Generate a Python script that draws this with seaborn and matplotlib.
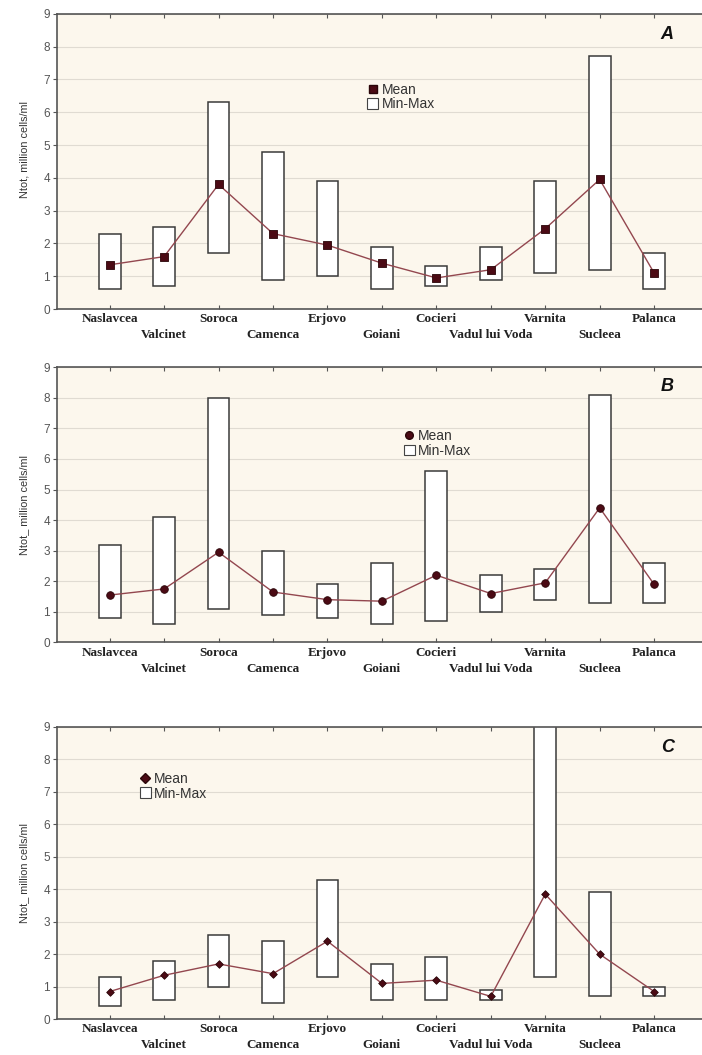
import numpy as np
import pandas as pd
import matplotlib
matplotlib.use("Agg")
import matplotlib.pyplot as plt
import seaborn as sns
from matplotlib.lines import Line2D
from matplotlib.patches import Rectangle

# sampling sites (x axis)
sites = ["Naslavcea", "Valcinet", "Soroca", "Camenca", "Erjovo", "Goiani",
         "Cocieri", "Vadul lui Voda", "Varnita", "Sucleea", "Palanca"]

# panel A
mean_a = [1.35, 1.6, 3.8, 2.3, 1.95, 1.4, 0.95, 1.2, 2.45, 3.95, 1.1]
min_a = [0.6, 0.7, 1.7, 0.9, 1.0, 0.6, 0.7, 0.9, 1.1, 1.2, 0.6]
max_a = [2.3, 2.5, 6.3, 4.8, 3.9, 1.9, 1.3, 1.9, 3.9, 7.7, 1.7]

# panel B
mean_b = [1.55, 1.75, 2.95, 1.65, 1.4, 1.35, 2.2, 1.6, 1.95, 4.4, 1.9]
min_b = [0.8, 0.6, 1.1, 0.9, 0.8, 0.6, 0.7, 1.0, 1.4, 1.3, 1.3]
max_b = [3.2, 4.1, 8.0, 3.0, 1.9, 2.6, 5.6, 2.2, 2.4, 8.1, 2.6]

# panel C
mean_c = [0.85, 1.35, 1.7, 1.4, 2.4, 1.1, 1.2, 0.7, 3.85, 2.0, 0.85]
min_c = [0.4, 0.6, 1.0, 0.5, 1.3, 0.6, 0.6, 0.6, 1.3, 0.7, 0.7]
max_c = [1.3, 1.8, 2.6, 2.4, 4.3, 1.7, 1.9, 0.9, 9.5, 3.9, 1.0]

y_ticks = list(range(0, 10))

BG = "#fcf7ed"
MEAN_COL = "#4b0a14"
LINE_COL = "#93474f"

sns.set_theme(style="white")
plt.rcParams["font.family"] = ["Liberation Sans", "DejaVu Sans"]


def draw_panel(ax, letter, means, mins, maxs, ylabel, ylab_y, marker, msize,
               legend_xy):
    df = pd.DataFrame({"pos": np.arange(len(sites)), "mean": means,
                       "lo": mins, "hi": maxs})
    ax.set_facecolor(BG)
    for y in y_ticks[1:]:
        ax.axhline(y, color="#e0dbd2", lw=0.8, zorder=0)

    # min-max boxes
    ax.bar(df["pos"], df["hi"] - df["lo"], bottom=df["lo"], width=0.4,
           color="white", edgecolor="#3a3a3a", linewidth=1.1, zorder=2)

    # mean line + markers
    sns.lineplot(data=df, x="pos", y="mean", ax=ax, color=LINE_COL, lw=1.0,
                 zorder=3, legend=False)
    sns.scatterplot(data=df, x="pos", y="mean", ax=ax, color=MEAN_COL,
                    marker=marker, s=msize, edgecolor="#2a0508", linewidth=0.6,
                    zorder=4, legend=False)

    ax.set_xlim(-0.97, 11.15)
    ax.set_ylim(0, 9)
    ax.set_yticks(y_ticks)
    ax.set_yticklabels([str(v) for v in y_ticks], fontsize=8.5, color="#555555")

    # staggered site names: even ones on the first row, odd ones below
    pos = np.arange(len(sites))
    ax.set_xticks(pos[::2])
    ax.set_xticklabels(sites[::2], fontsize=9.5, family="Liberation Serif",
                       color="#222222", fontweight="bold")
    ax.set_xticks(pos[1::2], minor=True)
    ax.set_xticklabels(sites[1::2], minor=True, fontsize=9.5,
                       family="Liberation Serif", color="#222222",
                       fontweight="bold")
    ax.tick_params(axis="y", length=3, width=0.8, color="#555555",
                   direction="out", left=True, pad=2)
    ax.tick_params(axis="x", which="both", length=3, width=0.8,
                   color="#555555", direction="in", top=True, bottom=True)
    ax.tick_params(axis="x", which="major", pad=3)
    ax.tick_params(axis="x", which="minor", pad=14.5)
    ax.set_xlabel("")
    ax.set_ylabel(ylabel, fontsize=7.8, color="#333333")
    ax.yaxis.set_label_coords(-0.042, ylab_y)
    for sp in ax.spines.values():
        sp.set_color("#555555")
        sp.set_linewidth(1.2)

    ax.text(0.925, 0.93, letter, transform=ax.transAxes, fontsize=13,
            fontweight="bold", style="italic", ha="center", va="center",
            color="#111111")

    handles = [
        Line2D([], [], marker=marker, color="none", markerfacecolor=MEAN_COL,
               markeredgecolor="#2a0508", markersize=5.5, linestyle="none"),
        Rectangle((0, 0), 1, 1, facecolor="white", edgecolor="#444444", lw=0.8),
    ]
    ax.legend(handles, ["Mean", "Min-Max"], loc="upper left",
              bbox_to_anchor=legend_xy, frameon=False, fontsize=10,
              handlelength=0.8, handleheight=0.8, handletextpad=0.25,
              labelspacing=0.05, borderpad=0, labelcolor="#333333")


fig = plt.figure(figsize=(7.02, 10.55), dpi=100)
fig.patch.set_facecolor("white")

ax_a = fig.add_axes([0.081, 0.707, 0.94, 0.280])
ax_b = fig.add_axes([0.081, 0.391, 0.94, 0.261])
ax_c = fig.add_axes([0.081, 0.034, 0.94, 0.277])

draw_panel(ax_a, "A", mean_a, min_a, max_a, "Ntot, million cells/ml", 0.54,
           "s", 30, (0.46, 0.79))
draw_panel(ax_b, "B", mean_b, min_b, max_b, "Ntot_ million cells/ml", 0.5,
           "o", 30, (0.515, 0.80))
draw_panel(ax_c, "C", mean_c, min_c, max_c, "Ntot_ million cells/ml", 0.5,
           "D", 15, (0.115, 0.87))

fig.savefig("out.png", dpi=100, facecolor="white")
